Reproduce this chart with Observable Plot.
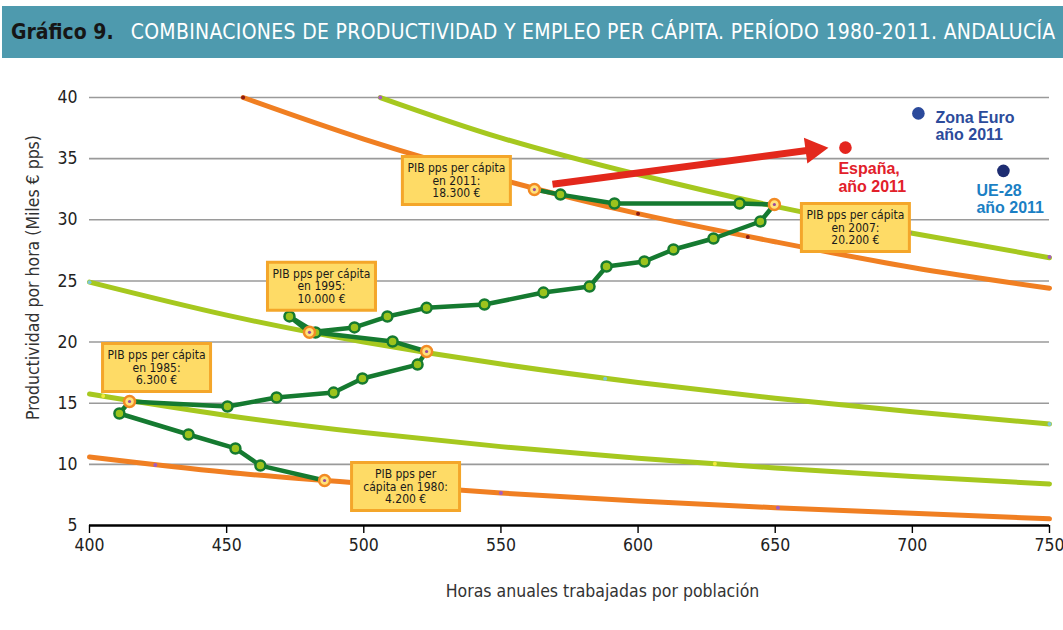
<!DOCTYPE html>
<html><head><meta charset="utf-8">
<script src="https://cdn.jsdelivr.net/npm/d3@7"></script>
<script src="https://cdn.jsdelivr.net/npm/@observablehq/plot@0.6"></script>
<style>
body{margin:0;background:#fff;width:1063px;height:630px;overflow:hidden;font-family:"Liberation Sans Narrow","DejaVu Sans Condensed",sans-serif;}
#title{position:absolute;left:2px;top:6px;width:1061px;height:52px;background:#4e9aae;display:flex;align-items:center;white-space:nowrap;font-size:21px;color:#fff;letter-spacing:0.3px;}
#title b{color:#161616;margin-left:9px;margin-right:17px;letter-spacing:0;}
#chart{position:absolute;left:0;top:58px;}
</style></head><body>
<div id="title"><b>Gráfico 9.</b><span>COMBINACIONES DE PRODUCTIVIDAD Y EMPLEO PER CÁPITA. PERÍODO 1980-2011. ANDALUCÍA</span></div>
<div id="chart"></div>
<script>
// ---- data ----
const years = [1980,1981,1982,1983,1984,1985,1986,1987,1988,1989,1990,1991,1992,1993,1994,1995,
               1996,1997,1998,1999,2000,2001,2002,2003,2004,2005,2006,2007,2008,2009,2010,2011];
const hours = [485.7,462.3,453.2,436.1,410.9,414.6,450.3,468.2,489.0,499.5,519.6,522.9,510.5,482.4,472.9,480.2,
               496.6,508.6,522.9,544.0,565.5,582.3,588.5,602.3,612.9,627.5,644.6,649.7,637.0,591.4,571.7,562.2];
const productivity = [8.68,9.9,11.3,12.44,14.16,15.14,14.73,15.47,15.87,17.02,18.16,19.23,20.05,20.78,22.1,20.8,
               21.2,22.09,22.8,23.07,24.05,24.54,26.18,26.59,27.57,28.47,29.86,31.25,31.33,31.33,32.06,32.47];
const highlightYears = [1980,1985,1991,1995,2007,2011];

const curveHours = [400,450,500,550,600,650,700,750];
const iso4200  = [10.6,9.35,8.45,7.65,7.0,6.45,6.0,5.55];
const iso6300  = [15.75,14.0,12.6,11.45,10.5,9.7,9.0,8.4];
const iso10000 = [24.9,22.2,20.0,18.2,16.7,15.4,14.3,13.3];
const iso18300Hours = [456,500,550,600,650,700,750];
const iso18300 = [40,36.6,33.3,30.5,28.2,26.1,24.4];
const iso20200Hours = [506,550,600,650,700,750];
const iso20200 = [40,36.7,33.7,31.1,28.9,26.9];

// small markers sitting on the curves
const redMarkHours = [456,600,640];      const redMarkProd = [40,30.5,28.6];
const purpleMarkHours = [424,550,651,506,699,750]; const purpleMarkProd = [9.95,7.65,6.45,40,28.95,26.95];
const cyanMarkHours = [400,588,750];     const cyanMarkProd = [24.9,17.0,13.3];
const yellowMarkHours = [405,628];       const yellowMarkProd = [15.6,10.05];

const countries = ["España","Zona Euro","UE-28"];
const countryHours = [675.6,702.2,733.2];
const countryProd = [35.9,38.7,34.0];

const arrowFrom = [568.8,32.9];
const arrowTo = [669.4,35.9];

const boxTexts = {
  1980: "PIB pps per\ncápita en 1980:\n4.200 €",
  1985: "PIB pps per cápita\nen 1985:\n6.300 €",
  1995: "PIB pps per cápita\nen 1995:\n10.000 €",
  2007: "PIB pps per cápita\nen 2007:\n20.200 €",
  2011: "PIB pps per cápita\nen 2011:\n18.300 €"
};

const xTicks = [400,450,500,550,600,650,700,750];
const yTicks = [5,10,15,20,25,30,35,40];
const xLabel = "Horas anuales trabajadas por población";
const yLabel = "Productividad por hora (Miles € pps)";

// ---- build ----
const traj = years.map((year,i)=>({year, h: hours[i], p: productivity[i]}));
const hl = traj.filter(d=>highlightYears.includes(d.year));
const plain = traj.filter(d=>!highlightYears.includes(d.year));
const mk = (xs, ys) => xs.map((x,i)=>({h:x, p:ys[i]}));
const cData = countries.map((name,i)=>({name, h: countryHours[i], p: countryProd[i]}));

const ORANGE = "#f07f22", GREEN = "#a6c81f";
const FONT = '"Liberation Sans Narrow","DejaVu Sans Condensed",sans-serif';
const BOLD = '"Liberation Sans",Arial,sans-serif';

const boxSymbol = {draw(ctx){ ctx.moveTo(-54,-24); ctx.lineTo(54,-24); ctx.lineTo(54,24); ctx.lineTo(-54,24); ctx.closePath(); }};
const headSymbol = {draw(ctx){ ctx.moveTo(0,0); ctx.lineTo(-23,-13); ctx.lineTo(-23,13); ctx.closePath(); }};

function box(year, dx, dy){
  const d = traj.filter(t=>t.year===year);
  return [
    Plot.dot(d,{x:"h", y:"p", symbol: boxSymbol, fill:"#fedb66", stroke:"#f4a62a", strokeWidth:3, dx, dy}),
    Plot.text(d,{x:"h", y:"p", text: ()=>boxTexts[year], dx, dy, fontSize:12, lineHeight:1.05, fill:"#1a1a1a", fontFamily: FONT})
  ];
}
function clabel(name, color, dx, dy){
  const d = cData.filter(c=>c.name===name);
  const txt = name==="España" ? "España,\naño 2011" : name + "\naño 2011";
  return Plot.text(d,{x:"h", y:"p", text: ()=>txt, dx, dy, textAnchor:"start", lineAnchor:"middle", lineHeight:1.1,
    fontSize:16, fontWeight:"bold", fill: color, fontFamily: BOLD});
}

const chart = Plot.plot({
  width: 1063, height: 572,
  marginLeft: 89, marginRight: 14, marginTop: 39, marginBottom: 105,
  x: {domain:[400,750]},
  y: {domain:[5,40]},
  style: {fontFamily: FONT, fontSize: "17px", color: "#222", background: "white", overflow: "visible"},
  marks: [
    Plot.gridY(yTicks.filter(v=>v>5), {stroke:"#9a9a9a", strokeOpacity:1, strokeWidth:1.6}),
    Plot.axisY(yTicks, {tickSize:0, tickPadding:12, label:null, fontSize:17.5, fill:"#222"}),
    Plot.axisX(xTicks, {tickSize:8, tickPadding:5, label:null, fontSize:17.5, stroke:"#000", strokeWidth:1.4, fill:"#222"}),
    Plot.ruleY([5], {stroke:"#000", strokeWidth:2.5}),
    Plot.text([xLabel], {frameAnchor:"bottom", dx:33, dy:71, fontSize:17.5, fill:"#333", text: d=>d}),
    Plot.text([yLabel], {frameAnchor:"left", textAnchor:"middle", dx:-56, dy:-34, rotate:-90, fontSize:17.5, fill:"#333", text: d=>d}),
    // iso per-capita curves
    Plot.line(mk(curveHours, iso4200), {x:"h", y:"p", stroke:ORANGE, strokeWidth:5, curve:"natural"}),
    Plot.line(mk(curveHours, iso6300), {x:"h", y:"p", stroke:GREEN, strokeWidth:5, curve:"natural"}),
    Plot.line(mk(curveHours, iso10000), {x:"h", y:"p", stroke:GREEN, strokeWidth:5, curve:"natural"}),
    Plot.line(mk(iso18300Hours, iso18300), {x:"h", y:"p", stroke:ORANGE, strokeWidth:5, curve:"natural"}),
    Plot.line(mk(iso20200Hours, iso20200), {x:"h", y:"p", stroke:GREEN, strokeWidth:5, curve:"natural"}),
    Plot.dot(mk(redMarkHours, redMarkProd), {x:"h", y:"p", r:2, fill:"#8b1c14"}),
    Plot.dot(mk(purpleMarkHours, purpleMarkProd), {x:"h", y:"p", r:2, fill:"#a45cc0"}),
    Plot.dot(mk(cyanMarkHours, cyanMarkProd), {x:"h", y:"p", r:2, fill:"#7cc8d8"}),
    Plot.dot(mk(yellowMarkHours, yellowMarkProd), {x:"h", y:"p", r:2, fill:"#f2ea3a"}),
    // trajectory
    Plot.line(traj, {x:"h", y:"p", stroke:"#157a30", strokeWidth:4.5, strokeLinejoin:"round"}),
    Plot.dot(plain, {x:"h", y:"p", r:5, fill:"#9cc31d", stroke:"#157a30", strokeWidth:2.5}),
    Plot.dot(hl, {x:"h", y:"p", r:5.5, fill:"#ffe27a", stroke:"#f28a24", strokeWidth:2.5}),
    Plot.dot(hl, {x:"h", y:"p", r:1.6, fill:"#9a4aa0"}),
    // arrow
    Plot.arrow([{x1:arrowFrom[0], y1:arrowFrom[1], x2:arrowTo[0], y2:arrowTo[1]}],
      {x1:"x1", y1:"y1", x2:"x2", y2:"y2", stroke:"#e3281c", strokeWidth:7, headLength:0, insetEnd:18, strokeLinecap:"butt"}),
    Plot.dot([{h:arrowTo[0], p:arrowTo[1]}], {x:"h", y:"p", symbol: headSymbol, fill:"#e3281c", stroke:"none", rotate:-7.6}),
    // countries
    Plot.dot(cData, {x:"h", y:"p", r:6.3, fill: d=> d.name==="España" ? "#e4261f" : d.name==="Zona Euro" ? "#2b4a9b" : "#1e2d72"}),
    clabel("Zona Euro", "#2c4b9b", 17, 12.5),
    clabel("España", "#e2202a", -7, 29.5),
    clabel("UE-28", "#1b7fc4", -27, 28),
    // boxes
    ...box(2011, -78, -9),
    ...box(1995, 12, -46),
    ...box(1985, 27, -34),
    ...box(1980, 81, 6),
    ...box(2007, 81, 23)
  ]
});
document.getElementById("chart").appendChild(chart);
</script>
</body></html>
